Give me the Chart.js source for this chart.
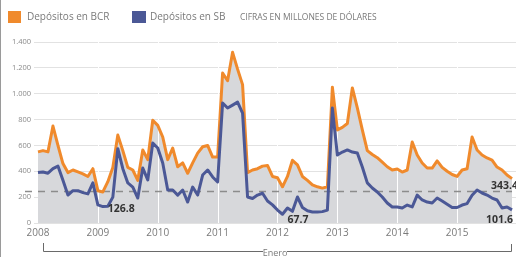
<!DOCTYPE html>
<html><head><meta charset="utf-8">
<script src="https://cdn.jsdelivr.net/npm/chart.js@4.4.1/dist/chart.umd.min.js"></script>
<style>html,body{margin:0;padding:0;background:#fff}#wrap{width:516px;height:257px;position:relative}</style>
</head><body><div id="wrap"><canvas id="c"></canvas></div>
<script>
const years = ['2008','2009','2010','2011','2012','2013','2014','2015'];
const seriesNames = ['Depósitos en BCR','Depósitos en SB'];
const unitNote = 'CIFRAS EN MILLONES DE DÓLARES';
const axisNote = 'Enero';
const yTicks = [0,200,400,600,800,1000,1200,1400];
const refLine = 250;
// monthly values, Jan 2008 - Dec 2015
const bcr = [550,560,550,750,600,460,390,410,395,380,360,420,
             250,240,320,430,680,560,430,410,330,565,490,795,
             755,665,490,580,435,465,385,465,540,590,600,510,
             510,1160,1100,1320,1190,1070,390,410,420,440,445,360,
             350,280,360,485,450,360,330,295,280,270,280,1050,
             720,740,770,1045,890,720,560,530,505,470,435,410,
             418,394,410,626,526,464,425,425,480,430,400,375,
             360,410,420,665,565,526,503,487,433,410,371,343.4];
const sb  = [390,395,385,420,440,330,216,250,250,235,225,310,
             140,126.8,130,200,575,420,310,278,193,425,333,619,
             580,464,255,255,216,255,162,278,216,371,410,356,
             317,928,889,912,935,850,201,190,216,230,170,140,
             100,67.7,116,90,201,120,95,85,85,88,100,889,
             526,549,565,549,541,433,310,271,240,201,155,124,
             124,116,139,124,216,178,162,155,193,170,145,120,
             120,139,150,215,255,232,216,193,178,116,124,101.6];
const callouts = [
  {series:1, index:13, text:'126.8', dx:5, dy:2, align:'left'},
  {series:1, index:49, text:'67.7', dx:5, dy:6, align:'left'},
  {series:0, index:95, text:'343.4', dx:6, dy:7, align:'right'},
  {series:1, index:95, text:'101.6', dx:1, dy:10, align:'right'}
];
const ORANGE = '#f08a2c', BLUE = '#4b5896', FILL = '#d7d8db', TXT = '#7a7a7a';
const pts = arr => arr.map((v,i)=>({x:i,y:v}));
const thousands = v => String(v).replace(/\B(?=(\d{3})+(?!\d))/g,'.');
const FONT = '"Open Sans", sans-serif';

const deco = {
  id:'deco',
  afterDatasetDraw(chart,args){
    if(args.index!==2) return;
    const {ctx, chartArea:a, scales:{x,y}} = chart;
    ctx.save();
    ctx.strokeStyle='#ffffff'; ctx.lineWidth=1;
    years.forEach((_,k)=>{ if(!k) return;
      const px=Math.round(x.getPixelForValue(k*12))+0.5;
      ctx.beginPath(); ctx.moveTo(px,a.bottom); ctx.lineTo(px,a.top); ctx.stroke(); });
    ctx.setLineDash([7,6]); ctx.strokeStyle='#8c8c8c'; ctx.lineWidth=1.4;
    const py=Math.round(y.getPixelForValue(refLine))+0.5;
    ctx.beginPath(); ctx.moveTo(a.left-9,py); ctx.lineTo(x.getPixelForValue(bcr.length-1),py); ctx.stroke();
    ctx.restore();
  },
  afterDraw(chart){
    const {ctx} = chart;
    ctx.save();
    ctx.strokeStyle='#9a9a9a'; ctx.lineWidth=1;
    ctx.beginPath(); ctx.moveTo(0.5,0); ctx.lineTo(0.5,257); ctx.stroke();
    ctx.textBaseline='middle'; ctx.textAlign='left';
    ctx.fillStyle=ORANGE; ctx.fillRect(8,11,13,12);
    ctx.fillStyle=BLUE; ctx.fillRect(132,11,14,12);
    ctx.font='10px '+FONT; ctx.fillStyle=TXT;
    ctx.fillText(seriesNames[0],27,17.5);
    ctx.fillText(seriesNames[1],150,17.5);
    ctx.font='8.5px '+FONT;
    ctx.fillText(unitNote,240,17.5,150);
    ctx.font='bold 10.5px '+FONT; ctx.fillStyle='#333333';
    callouts.forEach(c=>{
      const el = chart.getDatasetMeta(c.series).data[c.index];
      ctx.textAlign=c.align;
      ctx.fillText(c.text, el.x+c.dx, el.y+c.dy);
    });
    ctx.strokeStyle='#6a6a6a'; ctx.lineWidth=1;
    ctx.beginPath();
    ctx.moveTo(43.5,243); ctx.lineTo(43.5,251.5); ctx.lineTo(263,251.5);
    ctx.moveTo(287,251.5); ctx.lineTo(511.5,251.5); ctx.lineTo(511.5,244);
    ctx.stroke();
    ctx.font='9px '+FONT; ctx.fillStyle=TXT; ctx.textAlign='center';
    ctx.fillText(axisNote,275,253);
    ctx.restore();
  }
};

new Chart(document.getElementById('c'), {
  type:'line',
  data:{datasets:[
    {label:seriesNames[0], data:pts(bcr), borderColor:ORANGE, borderWidth:3, pointRadius:0, fill:false, tension:0, order:1, borderJoinStyle:'round'},
    {label:seriesNames[1], data:pts(sb), borderColor:BLUE, borderWidth:3, pointRadius:0, fill:false, tension:0, order:0, borderJoinStyle:'round'},
    {label:'fill', data:pts(bcr), borderWidth:0, borderColor:'rgba(0,0,0,0)', backgroundColor:FILL, pointRadius:0, fill:'origin', tension:0, order:2}
  ]},
  options:{
    responsive:true, maintainAspectRatio:false, animation:false,
    layout:{padding:{top:42,left:0,right:0,bottom:0}},
    plugins:{legend:{display:false}, tooltip:{enabled:false}},
    scales:{
      x:{type:'linear', min:-0.8, max:95.8,
         afterBuildTicks:s=>{s.ticks=years.map((_,k)=>({value:k*12}));},
         afterFit:s=>{s.height=34;},
         grid:{display:false, drawTicks:false}, border:{display:false},
         ticks:{padding:4, color:TXT, font:{family:FONT,size:10}, maxRotation:0, autoSkip:false,
                callback:v=>years[Math.round(v/12)]}},
      y:{min:0, max:1400,
         afterBuildTicks:s=>{s.ticks=yTicks.map(v=>({value:v}));},
         afterFit:s=>{s.width=34;},
         grid:{color:'#e2e2e2', drawTicks:false}, border:{display:false},
         ticks:{padding:3, color:'#8a8a8a', font:{family:FONT,size:7.5}, callback:v=>thousands(v)}}
    }
  },
  plugins:[deco]
});
</script></body></html>
